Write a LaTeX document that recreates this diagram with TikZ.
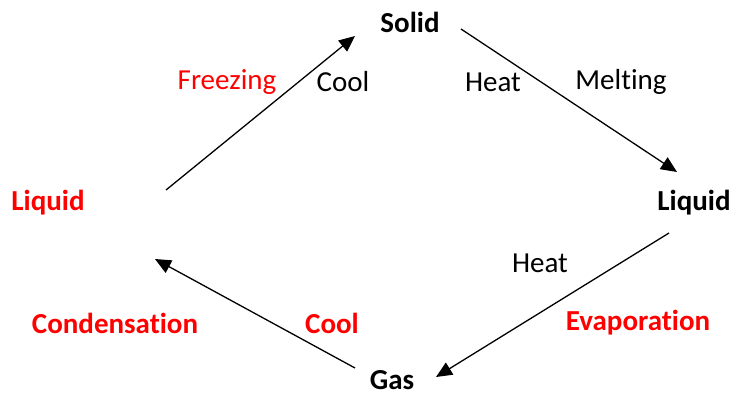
\documentclass[tikz,border=0pt]{standalone}
\usepackage{fontspec}
\setmainfont{Carlito}[RawFeature={-liga;-clig;-dlig}]
\usetikzlibrary{arrows.meta}
\definecolor{phred}{RGB}{255,0,0}
\tikzset{
  lbl/.style={inner sep=0pt, anchor=center, font=\fontsize{29}{34}\selectfont},
  blbl/.style={lbl, font=\fontsize{29}{34}\selectfont\bfseries},
  redl/.style={lbl, text=phred},
  redb/.style={blbl, text=phred},
  flow/.style={line width=1.3pt, -{Triangle[length=16pt,width=14pt]}}
}
\begin{document}
\begin{tikzpicture}[x=1pt,y=-1pt]
\useasboundingbox (0,0) rectangle (733,394);
\node[blbl] (solid) at (410,22) {Solid};
\node[redl] (freezing) at (227,82) {Freezing};
\node[lbl] (cooltop) at (343,82) {Cool};
\node[lbl] (heattop) at (493,82) {Heat};
\node[lbl] (melting) at (621,82) {Melt\kern0pt ing};
\node[blbl] (liquidr) at (694,203) {Liquid};
\node[redb] (liquidl) at (48,203) {Liquid};
\node[lbl] (heatlow) at (540,263) {Heat};
\node[redb] (cond) at (115,323) {Condensat\kern0pt ion};
\node[redb] (coolred) at (332,323) {Cool};
\node[redb] (evap) at (638,323) {Evaporat\kern0pt ion};
\node[blbl] (gas) at (392,380) {Gas};
\coordinate (a1s) at (166,190);
\coordinate (a1e) at (355,36);
\coordinate (a2s) at (461,29);
\coordinate (a2e) at (677,172);
\coordinate (a3s) at (669,233);
\coordinate (a3e) at (436,377);
\coordinate (a4s) at (355,368);
\coordinate (a4e) at (155,259);
\draw[flow] (a1s) -- (a1e);
\draw[flow] (a2s) -- (a2e);
\draw[flow] (a3s) -- (a3e);
\draw[flow] (a4s) -- (a4e);
\end{tikzpicture}
\end{document}
